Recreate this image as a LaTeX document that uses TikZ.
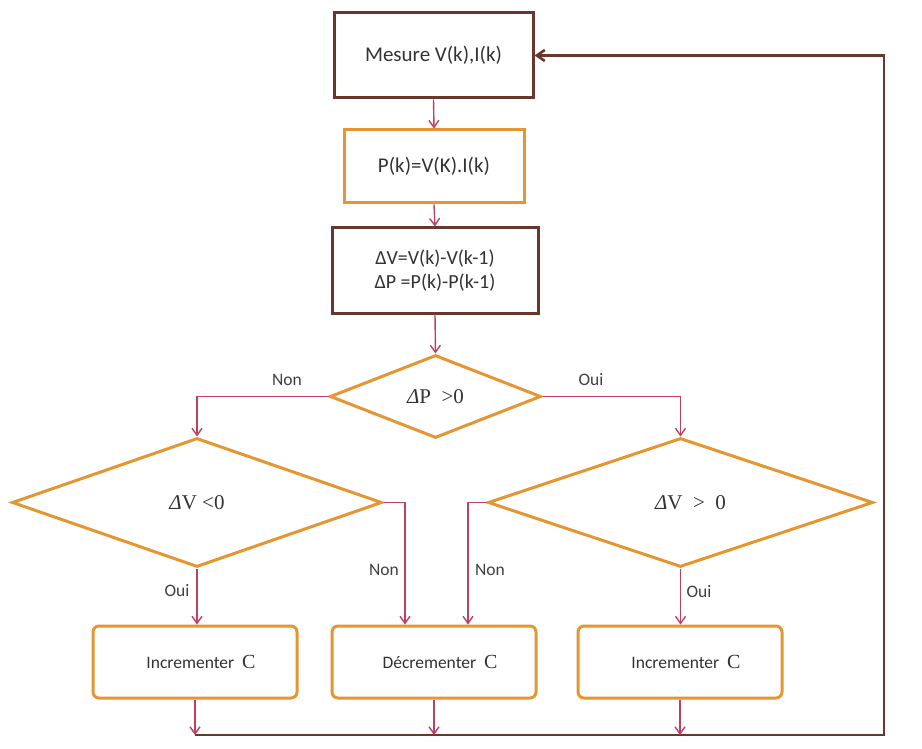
\documentclass[tikz,border=0pt]{standalone}
\usepackage{fontspec}
\setmainfont{Carlito}
\newfontfamily\serifC{Liberation Serif}
\usetikzlibrary{shapes.geometric,arrows.meta}
\definecolor{org}{RGB}{228,150,50}
\definecolor{brn}{RGB}{105,55,45}
\definecolor{arr}{RGB}{190,65,95}
\begin{document}
\begin{tikzpicture}[x=1pt,y=-1pt,
  basebox/.style={rectangle,inner sep=0pt,align=center,text=black!80,font=\fontsize{21}{24}\selectfont},
  brnbox/.style={basebox,draw=brn,line width=3pt},
  orgbox/.style={basebox,draw=org,line width=3pt},
  rbox/.style={basebox,draw=org,line width=3pt,rounded corners=6pt,minimum width=204pt,minimum height=72pt,font=\fontsize{17.5}{21}\selectfont},
  dia/.style={diamond,draw=org,line width=3pt,inner sep=0pt,text=black!80,font=\serifC\fontsize{21}{24}\selectfont},
  ar/.style={draw=arr,line width=1.4pt,-{Straight Barb[length=7pt,width=10pt]}},
  fb/.style={draw=brn,line width=2.6pt},
  lbl/.style={text=black!75,font=\fontsize{17.5}{20}\selectfont,inner sep=1pt}]
\useasboundingbox (0,0) rectangle (922,749);
\fill[white] (0,0) rectangle (922,749);

\node[brnbox,minimum width=199pt,minimum height=85pt] (m) at (433.5,55.5) {Mesure V(k),I(k)};
\node[orgbox,minimum width=180pt,minimum height=73pt] (p) at (434,166.5) {P(k)=V(K).I(k)};
\node[brnbox,minimum width=206pt,minimum height=85pt,font=\fontsize{20}{24}\selectfont] (dv) at (435,270.5) {ΔV=V(k)-V(k-1)\\ΔP =P(k)-P(k-1)};

\node[dia,minimum width=211pt,minimum height=83pt] (d1) at (435.5,396.5) {{\itshape Δ}P\ \ >0};
\node[dia,minimum width=370pt,minimum height=129pt] (d2) at (197,502.5) {{\itshape Δ}V\ <0};
\node[dia,minimum width=385pt,minimum height=129pt] (d3) at (680.5,502.5) {\hspace*{20pt}{\itshape Δ}V\ \ >\ \ 0};

\node[rbox] (a) at (195,662) {\hspace*{12pt}Incrementer\ \ {\serifC\fontsize{20}{21}\selectfont C}};
\node[rbox] (b) at (434,662) {\hspace*{12pt}Décrementer\ \ {\serifC\fontsize{20}{21}\selectfont C}};
\node[rbox] (c) at (680,662) {\hspace*{12pt}Incrementer\ \ {\serifC\fontsize{20}{21}\selectfont C}};

\draw[ar] (m.south) -- (p.north);
\draw[ar] (p.south) -- (dv.north);
\draw[ar] (dv.south) -- (d1.north);
\draw[ar] (d1.west) -| (d2.north);
\draw[ar] (d1.east) -| (d3.north);
\draw[ar] (d2.south) -- (d2.south |- a.north);
\draw[ar] (d3.south) -- (d3.south |- c.north);
\draw[ar] (d2.east) -| ([xshift=-29pt]b.north);
\draw[ar] (d3.west) -| ([xshift=34pt]b.north);

\node[lbl] (n1) at (287,380) {Non};
\node[lbl] (o1) at (591,380) {Oui};
\node[lbl] (o2) at (177,591) {Oui};
\node[lbl] (n2) at (384,570) {Non};
\node[lbl] (n3) at (490,570) {Non};
\node[lbl] (o3) at (699,592) {Oui};

\coordinate (j) at (884,735);
\draw[fb,-{Straight Barb[length=8pt,width=11pt]}] (a.south |- j) -- (j) |- (m.east);
\draw[ar] (a.south) -- (a.south |- j);
\draw[ar] (b.south) -- (b.south |- j);
\draw[ar] (c.south) -- (c.south |- j);
\end{tikzpicture}
\end{document}
